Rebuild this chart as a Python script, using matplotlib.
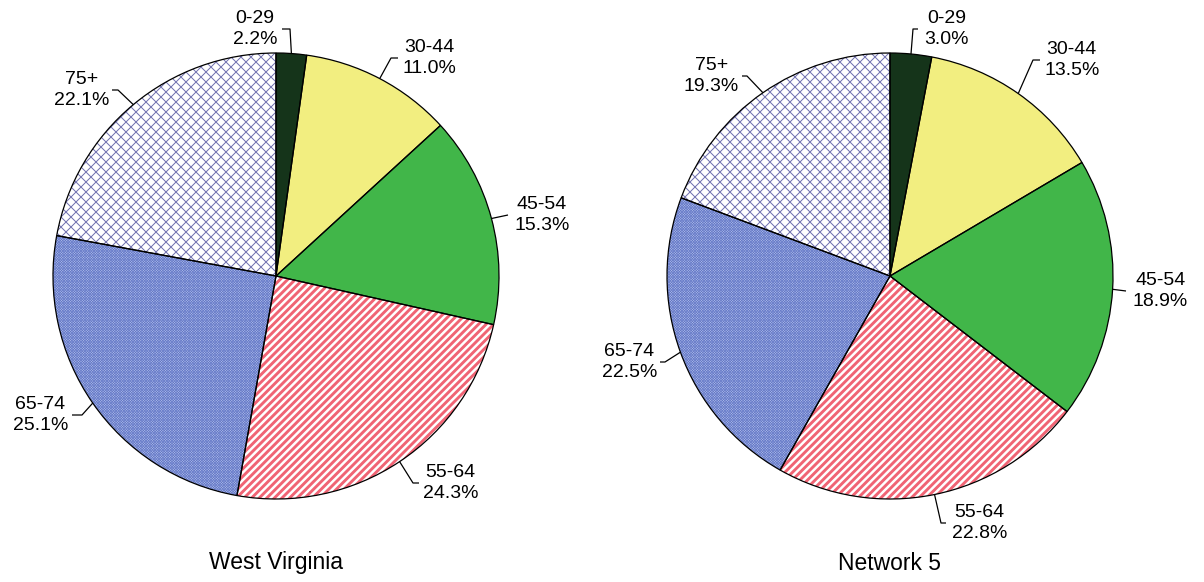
import numpy as np
import matplotlib
matplotlib.use("Agg")
import matplotlib.pyplot as plt
from matplotlib.collections import LineCollection

# Age distribution of patients, percent of total
age_groups = ["0-29", "30-44", "45-54", "55-64", "65-74", "75+"]
west_virginia = [2.2, 11.0, 15.3, 24.3, 25.1, 22.1]
network_5 = [3.0, 13.5, 18.9, 22.8, 22.5, 19.3]
panel_titles = ["West Virginia", "Network 5"]

W, H = 1204, 582
plt.rcParams["font.family"] = ["Liberation Sans", "DejaVu Sans"]

# fill style per age group:
# (face colour, texture slopes, texture colour, spacing px, line width px)
styles = [
    ("#15341a", (), None, 0, 0),
    ("#f2ee80", (), None, 0, 0),
    ("#41b649", (), None, 0, 0),
    ("white", (1,), "#f06474", 7.6, 2.9),
    ("#b3c0ea", (1, -1), "#5b70c4", 2.6, 0.7),
    ("white", (1, -1), "#7070b0", 10.0, 1.0),
]

# label placement in image pixels: (elbow x, elbow y, line end x, text x, align)
layouts = [
    [(290, 29, 282, 277, "right"),
     (391, 58, 398, 402, "left"),
     (508, 215, 508, 514, "left"),
     (413, 483, 419, 423, "left"),
     (82, 415, 72, 68, "right"),
     (118, 90, 112, 109, "right")],
    [(913, 29, 918, 924, "left"),
     (1033, 60, 1040, 1044, "left"),
     (1126, 291, 1126, 1133, "left"),
     (941, 523, 946, 952, "left"),
     (665, 362, 660, 657, "right"),
     (747, 76, 742, 739, "right")],
]

centers = [(276, 276), (890, 276)]
radius = 223

fig = plt.figure(figsize=(W / 100, H / 100), dpi=100)
ax = fig.add_axes([0, 0, 1, 1])
ax.set_xlim(0, W)
ax.set_ylim(0, H)
ax.set_aspect("equal")
ax.axis("off")


def Y(y):
    return H - y


def texture(wedge, cx, cy, slopes, color, step, lw):
    """Fill a wedge with diagonal lines, clipped to its outline."""
    span = 2 * radius + 10
    for s in slopes:
        segs = []
        for c in np.arange(-span, span, step):
            # lines y - cy = s * (x - cx) + c
            x0, x1 = cx - span, cx + span
            segs.append([(x0, cy + s * (x0 - cx) + c), (x1, cy + s * (x1 - cx) + c)])
        lc = LineCollection(segs, colors=color, linewidths=lw * 72 / 100, zorder=1.5)
        ax.add_collection(lc)
        lc.set_clip_path(wedge)


for values, title, (cx, cy), layout in zip([west_virginia, network_5], panel_titles, centers, layouts):
    wedges, _ = ax.pie(values, center=(cx, Y(cy)), radius=radius, startangle=90,
                       counterclock=False, wedgeprops=dict(linewidth=0))
    for w, (fc, slopes, tc, step, lw) in zip(wedges, styles):
        w.set_facecolor(fc)
        w.set_edgecolor(fc)
        w.set_linewidth(0)
        if slopes:
            texture(w, cx, Y(cy), slopes, tc, step, lw)
    # outlines on top
    outlines, _ = ax.pie(values, center=(cx, Y(cy)), radius=radius, startangle=90,
                         counterclock=False,
                         wedgeprops=dict(fill=False, edgecolor="black", linewidth=0.9))
    for o in outlines:
        o.set_zorder(2)
    ax.set_xlim(0, W)
    ax.set_ylim(0, H)

    for w, name, val, (ex, ey, hx, tx, ha) in zip(wedges, age_groups, values, layout):
        mid = np.deg2rad((w.theta1 + w.theta2) / 2)
        px = cx + radius * np.cos(mid)
        py = Y(cy) + radius * np.sin(mid)
        ax.plot([px, ex, hx], [py, Y(ey), Y(ey)], color="black", lw=0.9,
                solid_capstyle="butt")
        ax.text(tx, Y(ey), f"{name}\n{val:.1f}%", ha=ha, va="center",
                multialignment="center", fontsize=14, linespacing=1.3)

    ax.text(cx, Y(563), title, ha="center", va="center", fontsize=16.5)

fig.savefig("out.png", dpi=100)
